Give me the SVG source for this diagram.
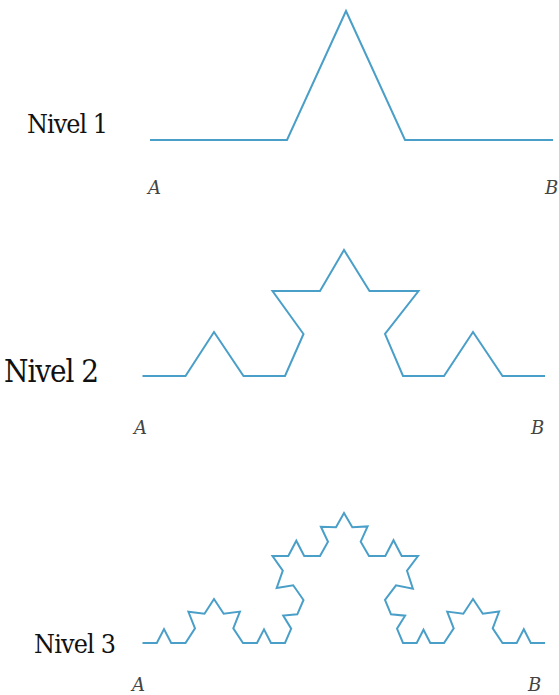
<svg xmlns="http://www.w3.org/2000/svg" width="559" height="695" viewBox="0 0 559 695">
<style>
.curve{fill:none;stroke:#4a9fc9;stroke-width:2;stroke-linejoin:miter;stroke-linecap:butt}
.lvl{font-family:'DejaVu Serif','Liberation Serif',serif;fill:#111}
.pt{font-family:'DejaVu Serif','Liberation Serif',serif;font-style:italic;font-size:18px;fill:#444}
</style>
<rect width="559" height="695" fill="#fff"/>
<g id="level1">
<text class="lvl" transform="translate(27,133) scale(1,1.12)" font-size="24" textLength="81">Nivel 1</text>
<text class="pt" x="148" y="194">A</text>
<text class="pt" x="545" y="194">B</text>
</g>
<g id="level2">
<text class="lvl" transform="translate(4,382) scale(1,1.1)" font-size="28" textLength="95">Nivel 2</text>
<text class="pt" x="134" y="434">A</text>
<text class="pt" x="531" y="434">B</text>
</g>
<g id="level3">
<text class="lvl" transform="translate(34,653) scale(1,1.12)" font-size="24" textLength="82">Nivel 3</text>
<text class="pt" x="132" y="691">A</text>
<text class="pt" x="528" y="691">B</text>
</g>
<g id="curves">
<polyline id="curve1" class="curve" points="150,140 287,140 346,11 405,140 553,140"/>
<polyline id="curve2" class="curve" points="142.5,376 185.5,376 214,332 243.5,376 285,376 303.5,334 272.5,291 320,291 344,250 369.5,291 418.5,291 385,334 403,376 444,376 473,332 502.5,376 545,376"/>
<polyline id="curve3" class="curve" points="142.5,643 156.8,643 164,629.1 171.2,643 185.5,643 195,628.3 188.4,611.8 204.5,613.7 214,599 223.7,613.7 239.9,611.6 233.3,628.3 243,643 257,643 264,629.4 271,643 285,643 291.2,628.7 283.2,615.5 297.3,614.3 303.5,600 293.2,585.3 276.7,588 282.8,570.7 272.5,556 288.3,556 296.3,540.7 304.2,556 320,556 328,541.7 320.9,526.8 336,527.3 344,513 352.3,527.3 367.6,526.4 360.7,541.7 369,556 385.3,556 393.5,540.2 401.7,556 418,556 407,570.7 412.9,588.7 396,585.3 385,600 391,614.3 405.1,615.7 397,628.7 403,643 416.7,643 423.5,629.8 430.3,643 444,643 453.7,628.3 447.2,611.6 463.3,613.7 473,599 482.8,613.7 499.1,611.5 492.7,628.3 502.5,643 516.7,643 523.8,629.3 530.8,643 545,643"/>
</g>
</svg>
